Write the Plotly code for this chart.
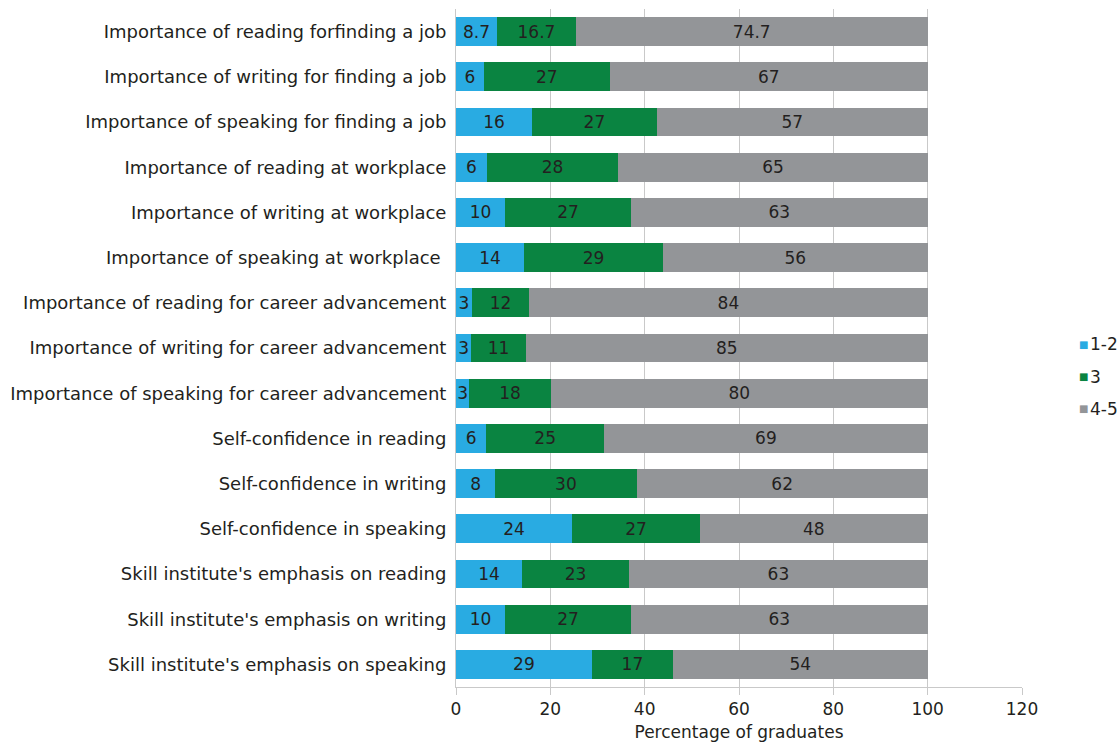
import plotly.graph_objects as go

categories = [
    "Importance of reading forfinding a job",
    "Importance of writing for finding a job",
    "Importance of speaking for finding a job",
    "Importance of reading at workplace",
    "Importance of writing at workplace",
    "Importance of speaking at workplace ",
    "Importance of reading for career advancement",
    "Importance of writing for career advancement",
    "Importance of speaking for career advancement",
    "Self-confidence in reading",
    "Self-confidence in writing",
    "Self-confidence in speaking",
    "Skill institute's emphasis on reading",
    "Skill institute's emphasis on writing",
    "Skill institute's emphasis on speaking",
]

# segment widths
v12 = [8.7, 5.9, 16.1, 6.5, 10.4, 14.4, 3.4, 3.2, 2.8, 6.4, 8.3, 24.6, 14.0, 10.4, 28.8]
v3 = [16.7, 26.7, 26.5, 27.9, 26.7, 29.5, 12.1, 11.6, 17.3, 25.0, 30.0, 27.1, 22.7, 26.7, 17.2]
v45 = [74.6, 67.4, 57.4, 65.6, 62.9, 56.1, 84.5, 85.2, 79.9, 68.6, 61.7, 48.3, 63.3, 62.9, 54.0]

# data labels as printed
t12 = ["8.7", "6", "16", "6", "10", "14", "3", "3", "3", "6", "8", "24", "14", "10", "29"]
t3 = ["16.7", "27", "27", "28", "27", "29", "12", "11", "18", "25", "30", "27", "23", "27", "17"]
t45 = ["74.7", "67", "57", "65", "63", "56", "84", "85", "80", "69", "62", "48", "63", "63", "54"]

series = [
    ("1-2", v12, t12, "#29ABE2"),
    ("3", v3, t3, "#0A8441"),
    ("4-5", v45, t45, "#939598"),
]

FONT = "DejaVu Sans"
TXT = "#231F20"
fig = go.Figure()
for name, vals, txt, col in series:
    fig.add_trace(go.Bar(
        y=categories, x=vals, name=name, orientation="h",
        marker=dict(color=col, line=dict(width=0)),
        text=txt, textposition="inside", insidetextanchor="middle",
        constraintext="none", textangle=0,
        textfont=dict(family=FONT, size=17, color=TXT),
        hoverinfo="skip", showlegend=False,
    ))

# legend drawn as annotations (coloured square + label)
LEG_X, LEG_Y, LEG_STEP = 1.1095, 0.5052, 0.0473
for i, (name, _, _, col) in enumerate(series):
    yy = LEG_Y - i * LEG_STEP
    fig.add_annotation(
        xref="paper", yref="paper", x=LEG_X, y=yy,
        xanchor="center", yanchor="middle", showarrow=False, borderpad=0,
        text="■", font=dict(family=FONT, size=10, color=col),
    )
    fig.add_annotation(
        xref="paper", yref="paper", x=LEG_X + 0.008, y=yy,
        xanchor="left", yanchor="middle", showarrow=False, borderpad=0,
        text=name, font=dict(family=FONT, size=17, color=TXT),
    )

fig.update_layout(
    barmode="stack",
    bargap=0.36,
    width=1120, height=742,
    margin=dict(l=456, r=98, t=9, b=55, autoexpand=False),
    paper_bgcolor="white", plot_bgcolor="white",
    font=dict(family=FONT, size=17, color=TXT),
    showlegend=False,
)
fig.update_xaxes(
    range=[0, 120], dtick=20, tick0=0,
    showgrid=True, gridcolor="#C9C9C9", gridwidth=1,
    showline=True, linecolor="#C9C9C9", linewidth=1,
    ticks="outside", ticklen=7, tickcolor="#C9C9C9",
    tickfont=dict(size=17, color=TXT),
    title=dict(text="Percentage of graduates", font=dict(size=17, color=TXT), standoff=14),
    zeroline=False, mirror=False,
)
fig.update_yaxes(
    autorange="reversed", categoryorder="array", categoryarray=categories,
    showline=True, linecolor="#C9C9C9", linewidth=1,
    ticks="", tickfont=dict(size=18, color=TXT),
    ticklabelstandoff=5,
)

fig.write_html(
    "out.html",
    config={"displayModeBar": False},
    post_script="document.body.style.margin='0';document.body.style.overflow='hidden';",
)
